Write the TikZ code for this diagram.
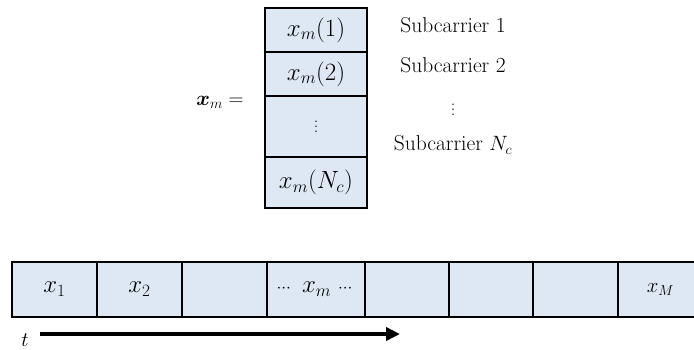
\documentclass[tikz,border=0pt]{standalone}
\usepackage{amsmath}
\usepackage{bm}
\usetikzlibrary{arrows.meta}
\definecolor{cellblue}{RGB}{222,232,244}
\newcommand\myvdots{\vbox{\baselineskip=5pt\lineskiplimit=0pt\hbox{.}\hbox{.}\hbox{.}}}
\tikzset{
  cell/.style={draw=black, line width=1.3pt, fill=cellblue, rectangle, inner sep=0pt, font=\fontsize{23}{27}\selectfont},
  lbl/.style={inner sep=0pt, font=\fontsize{21.5}{25}\selectfont},
  dotsl/.style={inner sep=0pt, font=\fontsize{18}{20}\selectfont},
  timearrow/.style={line width=3.6pt, -{Triangle[length=14pt,width=13pt]}}
}
\begin{document}
\begin{tikzpicture}[x=1pt,y=-1pt]
\clip (0,0) rectangle (694,349);
% stack
\node[cell, minimum width=102pt, minimum height=44pt] (s1) at (316,30) {$x_m(1)$};
\node[cell, minimum width=102pt, minimum height=44pt] (s2) at (316,74) {$x_m(2)$};
\node[cell, minimum width=102pt, minimum height=61pt, font=\fontsize{18}{20}\selectfont] (s3) at (316,126.5) {\myvdots};
\node[cell, minimum width=102pt, minimum height=51pt] (s4) at (316,182.5) {$x_m(N_c)$};
\node[lbl, font=\fontsize{21}{25}\selectfont] (xm) at (220,102) {$\bm{x}_m =$};
% labels
\node[lbl] (l1) at (453,25) {Subcarrier 1};
\node[lbl] (l2) at (453,65) {Subcarrier 2};
\node[dotsl] (l3) at (453,110) {\myvdots};
\node[lbl] (l4) at (453,145) {Subcarrier $N_c$};
% bottom row
\node[cell, minimum width=85pt, minimum height=55pt] (c1) at (54.5,289.5) {$x_1$};
\node[cell, minimum width=85pt, minimum height=55pt] (c2) at (139.5,289.5) {$x_2$};
\node[cell, minimum width=85pt, minimum height=55pt] (c3) at (224.5,289.5) {};
\node[cell, minimum width=98pt, minimum height=55pt] (c4) at (316,289.5) {$\scriptstyle\cdots\ \textstyle x_m\ \scriptstyle\cdots$};
\node[cell, minimum width=84pt, minimum height=55pt] (c5) at (407,289.5) {};
\node[cell, minimum width=84pt, minimum height=55pt] (c6) at (491,289.5) {};
\node[cell, minimum width=85pt, minimum height=55pt] (c7) at (575.5,289.5) {};
\node[cell, minimum width=85pt, minimum height=55pt, font=\fontsize{21}{25}\selectfont] (c8) at (660.5,289.5) {$x_M$};
% time arrow
\node[lbl, font=\fontsize{20}{24}\selectfont] (t) at (25,340) {$t$};
\coordinate (ts) at (40,334);
\coordinate (te) at (400,334);
\draw[timearrow] (ts) -- (te);
\end{tikzpicture}
\end{document}
